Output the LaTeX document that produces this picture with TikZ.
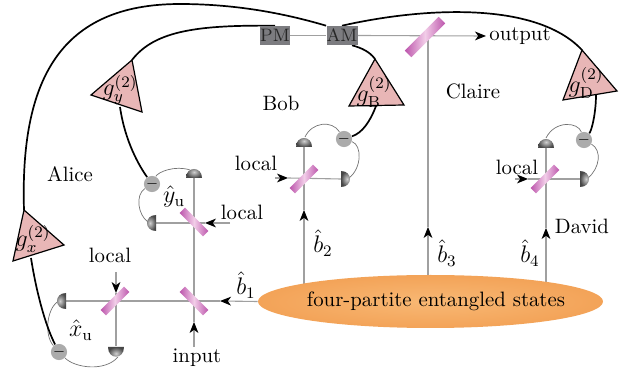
\documentclass[tikz,border=0pt]{standalone}
\usetikzlibrary{arrows.meta,shapes.geometric,backgrounds}
\definecolor{bsm}{HTML}{BC55AC}
\definecolor{bsl}{HTML}{F2CDE8}
\definecolor{beamc}{HTML}{A0A0A0}
\definecolor{trif}{HTML}{E8B6B6}
\definecolor{boxc}{HTML}{7C7C80}
\tikzset{
  x=0.5pt,y=-0.5pt,
  beam/.style={draw=beamc,line width=0.55pt},
  thin wire/.style={draw=black!55,line width=0.35pt},
  wire/.style={draw=black,line width=0.85pt},
  ray/.style={beam,-{Stealth[length=5.5pt,width=4.4pt,inset=1.6pt,color=black]}},
  bsplit/.style={rectangle,inner sep=0pt,minimum width=16.5pt,minimum height=3.8pt,
    left color=bsm,right color=bsm,middle color=bsl},
  bsbig/.style={bsplit,minimum width=24pt,minimum height=4.6pt},
  boxm/.style={rectangle,fill=boxc,inner sep=0pt,minimum height=9.4pt,text=black!85,font=\fontsize{9}{10}\selectfont},
  minusd/.style={circle,fill=black!33,inner sep=0pt,minimum size=7.4pt,font=\scriptsize},
  amp/.style={draw=black,line width=0.6pt,fill=trif,line join=miter},
  lab/.style={inner sep=0pt,font=\fontsize{10.4}{13}\selectfont},
  glab/.style={inner sep=0pt,font=\fontsize{11.5}{14}\selectfont},
  domeshade/.style={inner color=black!18,outer color=black!72},
}
\begin{document}
\begin{tikzpicture}
\useasboundingbox (0,0) rectangle (623,374);

% detectors
\coordinate (dAl) at (66,301);
\coordinate (dAb) at (116,346);
\coordinate (dBl) at (156,223);
\coordinate (dBt) at (194,178);
\coordinate (dCt) at (304,147);
\coordinate (dCr) at (341,179);
\coordinate (dDt) at (546,148);
\coordinate (dDr) at (580,179);
% left-facing dome
\shade[domeshade] (66,293) .. controls (54,293) and (54,309) .. (66,309) -- cycle;
\shade[domeshade] (156,215) .. controls (144,215) and (144,231) .. (156,231) -- cycle;
% down-facing dome
\shade[domeshade] (108,347) .. controls (108,360) and (124,360) .. (124,347) -- cycle;
% up-facing domes
\shade[domeshade] (186,178) .. controls (186,166) and (202,166) .. (202,178) -- cycle;
\shade[domeshade] (296,147) .. controls (296,135) and (312,135) .. (312,147) -- cycle;
\shade[domeshade] (538,148) .. controls (538,136) and (554,136) .. (554,148) -- cycle;
% right-facing domes
\shade[domeshade] (341,171) .. controls (353,171) and (353,187) .. (341,187) -- cycle;
\shade[domeshade] (580,171) .. controls (592,171) and (592,187) .. (580,187) -- cycle;

% beam splitters
\node[bsplit,rotate=-45] (bsA) at (194,301) {};
\node[bsplit,rotate=-45] (bsB) at (194,222) {};
\node[bsplit,rotate=45]  (bsL) at (115,301) {};
\node[bsplit,rotate=45]  (bsC) at (304,179) {};
\node[bsplit,rotate=45]  (bsD) at (545,179) {};
\node[bsbig,rotate=45]   (bsT) at (425,37) {};

% modulators
\node[boxm,minimum width=14pt] (pm) at (275,35.5) {PM};
\node[boxm,minimum width=15.5pt] (am) at (342,35.5) {AM};

% photodiodes with minus sign
\node[minusd] (mA) at (59,352) {$-$};
\node[minusd] (mB) at (152,184) {$-$};
\node[minusd] (mC) at (344,139) {$-$};
\node[minusd] (mD) at (584,140) {$-$};

% source
\node[ellipse,inner sep=0pt,minimum width=172.5pt,minimum height=26.5pt,
  inner color={rgb,255:red,248;green,184;blue,116},outer color={rgb,255:red,243;green,163;blue,88}] (ent) at (430.5,301.5) {};
\node[lab] (enttext) at (436,301) {four-partite entangled states};

% amplifiers
\coordinate (xa) at (24,210); \coordinate (xb) at (64,245); \coordinate (xc) at (13,261);
\coordinate (ya) at (132,60); \coordinate (yb) at (91,95);  \coordinate (yc) at (142,112);
\coordinate (za) at (375,59); \coordinate (zb) at (349,106); \coordinate (zc) at (404,105);
\coordinate (wa) at (582,50); \coordinate (wb) at (617,91); \coordinate (wc) at (563,100);
\path[amp] (xa) -- (xb) -- (xc) -- cycle;
\path[amp] (ya) -- (yb) -- (yc) -- cycle;
\path[amp] (za) -- (zb) -- (zc) -- cycle;
\path[amp] (wa) -- (wb) -- (wc) -- cycle;
\node[glab] (gx) at (33,239) {$g_{x}^{(2)}$};
\node[glab] (gy) at (120,90) {$g_{y}^{(2)}$};
\node[glab] (gb) at (374,92) {$g_{\mathrm{B}}^{(2)}$};
\node[glab] (gd) at (586,83) {$g_{\mathrm{D}}^{(2)}$};
\coordinate (xo) at (31,258); \coordinate (yo) at (120,107);
\coordinate (zo) at (376,106); \coordinate (wo) at (596,95);
\coordinate (xtop) at (180,4);

% free ends
\coordinate (inS) at (194,347);  \coordinate (inT) at (194,322);
\coordinate (b1T) at (220,301);
\coordinate (lAs) at (116,272);  \coordinate (lAt) at (116,293);
\coordinate (lBs) at (230,223);  \coordinate (lBt) at (205,223);
\coordinate (lCs) at (275,178);  \coordinate (lCt) at (288,178);
\coordinate (lDs) at (515,179);  \coordinate (lDt) at (528,179);
\coordinate (e2) at (304,300);   \coordinate (t2) at (304,210);
\coordinate (e3) at (428,300);   \coordinate (t3) at (428,227);
\coordinate (e4) at (546,300);   \coordinate (t4) at (546,228);
\coordinate (tj) at (428,36);
\coordinate (outT) at (486,36);

% labels
\node[lab] (alice)  at (70,174) {Alice};
\node[lab] (bob)    at (281,103) {Bob};
\node[lab] (claire) at (473,91) {Claire};
\node[lab] (david)  at (582,226) {David};
\node[lab] (out)    at (520,36) {output};
\node[lab] (input)  at (197,358) {input};
\node[lab] (locA)   at (110,255) {local};
\node[lab] (locB)   at (242,212) {local};
\node[lab] (locC)   at (256,163) {local};
\node[lab] (locD)   at (517,167) {local};
\node[glab] (b1)     at (246,285) {$\hat b_{1}$};
\node[glab] (b2)     at (323,243) {$\hat b_{2}$};
\node[glab] (b3)     at (447,253) {$\hat b_{3}$};
\node[glab] (b4)     at (530,253) {$\hat b_{4}$};
\node[glab] (xu)     at (81,330) {$\hat x_{\mathrm{u}}$};
\node[glab] (yu)     at (174,197) {$\hat y_{\mathrm{u}}$};

\begin{scope}[on background layer]
  % beams
  \draw[ray] (ent.west) -- (b1T);
  \draw[beam] (b1T) -- (dAl);
  \draw[ray] (inS) -- (inT);
  \draw[beam] (inT) -- (dBt);
  \draw[ray] (lAs) -- (lAt);
  \draw[beam] (lAt) -- (dAb);
  \draw[ray] (lBs) -- (lBt);
  \draw[beam] (lBt) -- (dBl);
  \draw[ray] (lCs) -- (lCt);
  \draw[beam] (lCt) -- (dCr);
  \draw[ray] (lDs) -- (lDt);
  \draw[beam] (lDt) -- (dDr);
  \draw[ray] (e2) -- (t2);
  \draw[beam] (t2) -- (dCt);
  \draw[ray] (e3) -- (t3);
  \draw[beam] (t3) -- (tj);
  \draw[ray] (e4) -- (t4);
  \draw[beam] (t4) -- (dDt);
  \draw[beam] (pm.east) -- (am.west);
  \draw[ray] (am.east) -- (outT);
  % thin detector links
  \draw[thin wire] (57,302) .. controls (47,310) and (44,335) .. (mA);
  \draw[thin wire] (mA) .. controls (75,368) and (105,372) .. (118,357);
  \draw[thin wire] (mB) .. controls (158,172) and (175,165) .. (190,170);
  \draw[thin wire] (mB) .. controls (135,195) and (138,215) .. (148,222);
  \draw[thin wire] (305,137) .. controls (312,122) and (332,120) .. (mC);
  \draw[thin wire] (mC) .. controls (362,145) and (362,168) .. (349,178);
  \draw[thin wire] (546,138) .. controls (555,120) and (578,122) .. (mD);
  \draw[thin wire] (mD) .. controls (602,150) and (600,168) .. (588,178);
  % electronic wires
  \draw[wire] (xo) .. controls (36,290) and (45,325) .. (mA);
  \draw[wire] (yo) .. controls (124,135) and (135,160) .. (mB);
  \draw[wire] (zo) .. controls (370,122) and (362,133) .. (mC);
  \draw[wire] (wo) .. controls (596,112) and (592,130) .. (mD);
  \draw[wire] (xa) .. controls (20,80) and (60,4) .. (xtop) .. controls (240,4) and (290,15) .. (am.north west);
  \draw[wire] (ya) .. controls (155,30) and (200,25) .. (pm.north);
  \draw[wire] (am.north) .. controls (420,8) and (535,0) .. (wa);
  \draw[wire] (am.south) ++(10,0) .. controls (362,48) and (370,52) .. (za);
\end{scope}
\end{tikzpicture}
\end{document}
